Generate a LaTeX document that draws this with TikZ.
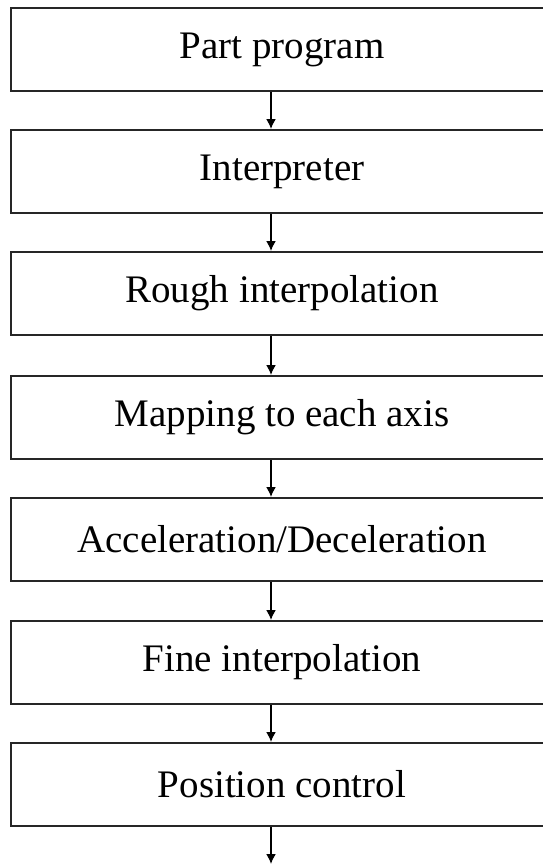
\documentclass[tikz,border=0pt]{standalone}
\usepackage{fontspec}
\setmainfont{Liberation Serif}
\usetikzlibrary{arrows.meta}
\begin{document}
\begin{tikzpicture}[x=1pt,y=1pt,
  stage/.style={draw=black!85, line width=2pt, rectangle, minimum width=542pt, minimum height=83pt, anchor=north west, inner sep=0pt, font=\fontsize{39}{44}\selectfont},
  arr/.style={line width=1.6pt, -{Latex[length=10pt,width=10pt]}}]
\useasboundingbox (0,0) rectangle (542,-867);
\fill[white] (0,0) rectangle (542,-867);
\node[stage] (b1) at (10,-7) {Part program};
\node[stage] (b2) at (10,-129) {Interpreter};
\node[stage] (b3) at (10,-251) {Rough interpolation};
\node[stage] (b4) at (10,-375) {Mapping to each axis};
\node[stage] (b5) at (10,-497) {Acceleration/Deceleration};
\node[stage] (b6) at (10,-620) {Fine interpolation};
\node[stage] (b7) at (10,-742) {Position control};
\coordinate (ax) at (271,0);
\coordinate (out) at (271,-864);
\draw[arr] (b1.south -| ax) -- (b2.north -| ax);
\draw[arr] (b2.south -| ax) -- (b3.north -| ax);
\draw[arr] (b3.south -| ax) -- (b4.north -| ax);
\draw[arr] (b4.south -| ax) -- (b5.north -| ax);
\draw[arr] (b5.south -| ax) -- (b6.north -| ax);
\draw[arr] (b6.south -| ax) -- (b7.north -| ax);
\draw[arr] (b7.south -| ax) -- (out);
\end{tikzpicture}
\end{document}
